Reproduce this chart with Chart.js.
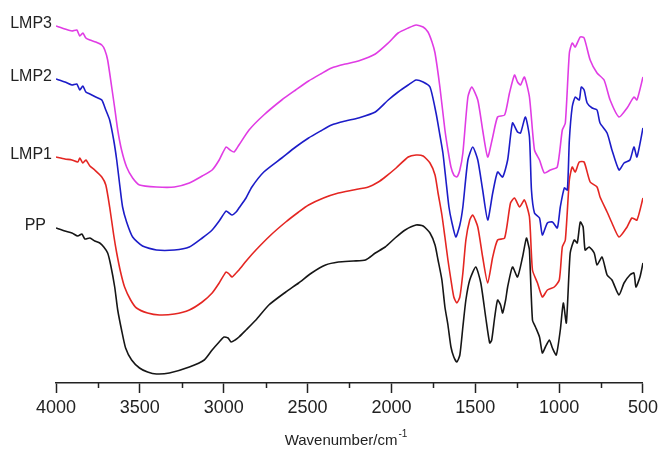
<!DOCTYPE html>
<html>
<head>
<meta charset="utf-8">
<script src="https://cdn.jsdelivr.net/npm/chart.js@4.4.1/dist/chart.umd.min.js"></script>
<style>
  html, body { margin: 0; padding: 0; background: #fff; }
  #wrap { width: 662px; height: 449px; }
</style>
</head>
<body>
<div id="wrap"><canvas id="ftir" width="662" height="449"></canvas></div>
<script>
// series names, as printed at the left end of each trace
const seriesNames = ['LMP3', 'LMP2', 'LMP1', 'PP'];

// tick labels of the wavenumber axis
const majorTicks = [4000, 3500, 3000, 2500, 2000, 1500, 1000, 500];
const minorTicks = [3750, 3250, 2750, 2250, 1750, 1250, 750];

// traces (transmittance, arbitrary offset units)
const ppWn = [4000,3947,3905,3870,3846,3828,3798,3769,3739,3715,3692,3674,3650,3632,3609,3585,3549,3502,3454,3401,3324,3205,3116,3069,3027,2998,2974,2956,2932,2909,2867,2808,2731,2630,2553,2476,2393,2316,2227,2155,2096,2037,1978,1918,1853,1811,1770,1740,1722,1699,1681,1663,1645,1628,1610,1592,1574,1556,1533,1497,1467,1438,1414,1402,1384,1367,1349,1337,1319,1307,1278,1248,1218,1195,1183,1177,1159,1141,1117,1100,1082,1058,1040,1017,993,975,957,934,910,892,874,857,845,821,791,774,744,714,685,643,613,578,554,542,518,500];
const ppT = [155,152,150,147,149,144,145,142,140,136,130,118,96,73,53,35,23,15,11,9,10,16,23,33,41,46,45,41,43,46,53,63,78,91,100,110,118,121,122,123,130,136,145,153,158,157,150,138,123,103,76,58,36,26,21,28,56,83,103,116,100,66,40,43,66,83,78,70,83,96,116,106,126,145,138,133,63,56,46,30,36,43,35,28,53,80,60,130,143,140,161,156,133,136,130,118,126,108,103,88,100,108,110,96,106,120];

const lmp1Wn = [4000,3947,3905,3870,3858,3840,3822,3798,3769,3727,3703,3680,3656,3638,3615,3591,3555,3520,3454,3383,3294,3205,3128,3069,3027,2986,2968,2950,2926,2909,2861,2808,2719,2630,2553,2494,2405,2316,2227,2138,2078,2037,1972,1900,1853,1811,1770,1740,1722,1699,1681,1663,1645,1628,1610,1592,1574,1556,1533,1515,1485,1456,1426,1396,1367,1325,1290,1266,1236,1207,1177,1159,1129,1100,1070,1029,999,981,963,939,922,904,880,851,815,774,756,714,685,643,595,566,536,500];
const lmp1T = [226,224,223,221,225,220,223,217,213,206,198,176,148,130,111,96,83,75,70,68,69,73,81,90,100,111,109,106,110,113,123,133,148,161,171,178,185,190,193,196,201,206,215,226,228,227,220,208,190,168,146,123,103,86,80,86,110,143,163,168,156,126,100,126,143,145,180,185,176,183,166,113,100,86,93,96,103,136,143,203,216,211,221,221,201,196,186,171,160,146,156,165,163,185];

const lmp2Wn = [4000,3947,3905,3876,3858,3840,3822,3798,3763,3727,3703,3680,3656,3638,3620,3603,3579,3543,3484,3401,3294,3205,3128,3069,3027,2986,2968,2950,2926,2909,2867,2832,2761,2654,2571,2494,2422,2357,2274,2197,2096,2019,1960,1900,1853,1811,1770,1734,1711,1693,1675,1657,1640,1616,1592,1574,1544,1515,1485,1456,1426,1396,1367,1337,1307,1278,1248,1230,1201,1177,1165,1147,1117,1100,1070,1040,1011,993,969,951,939,922,904,880,868,851,833,803,774,756,714,685,643,613,578,554,536,500];
const lmp2T = [304,301,298,299,293,297,291,289,286,283,273,263,243,223,198,176,161,146,137,133,133,136,145,153,162,172,170,168,171,175,185,196,211,225,236,245,252,258,262,265,271,283,291,298,303,301,296,270,248,230,203,176,161,146,158,176,223,236,223,193,163,190,211,206,223,260,251,250,266,246,193,170,165,148,160,161,155,176,195,193,243,276,286,283,296,293,280,275,273,260,250,233,213,220,223,236,226,255];

const lmp3Wn = [4000,3947,3905,3876,3858,3840,3822,3798,3763,3727,3709,3692,3668,3650,3632,3609,3579,3543,3502,3401,3294,3205,3128,3069,3027,2986,2962,2938,2909,2849,2761,2654,2571,2494,2422,2357,2274,2197,2096,2019,1960,1900,1853,1811,1782,1758,1740,1711,1681,1663,1645,1628,1610,1592,1574,1544,1521,1485,1456,1426,1396,1367,1325,1296,1266,1248,1230,1207,1177,1147,1117,1088,1052,1011,981,963,939,922,904,874,851,815,774,732,696,643,595,554,536,500];
const lmp3T = [357,354,352,353,347,350,345,343,341,338,333,323,296,275,253,233,216,205,198,196,196,200,207,213,223,236,233,231,238,253,268,283,293,302,309,315,319,322,329,340,350,355,358,356,351,341,330,296,253,233,216,208,206,213,230,286,296,283,253,226,246,266,268,290,308,301,298,306,286,233,223,210,213,216,253,260,330,340,336,346,345,323,310,303,283,266,275,286,283,306];

const colors = ['#e03ce4', '#1c1cc8', '#e42622', '#161616'];

function pts(wn, t) {
    return wn.map((w, i) => ({ x: w, y: t[i] }));
}

const traces = [pts(lmp3Wn, lmp3T), pts(lmp2Wn, lmp2T), pts(lmp1Wn, lmp1T), pts(ppWn, ppT)];

// names at the start of each trace
const traceLabels = {
    id: 'traceLabels',
    afterDatasetsDraw(chart) {
        const ctx = chart.ctx;
        ctx.save();
        ctx.font = '16px "Liberation Sans", Arial, sans-serif';
        ctx.fillStyle = '#222';
        ctx.textAlign = 'right';
        ctx.textBaseline = 'middle';
        chart.data.datasets.forEach((ds, i) => {
            const p = chart.getDatasetMeta(i).data[0];
            const gap = ds.label === 'PP' ? 10 : 4;
            ctx.fillText(ds.label, p.x - gap, p.y - 2);
        });
        ctx.restore();
    }
};

// minor ticks and the axis title with its superscript
const axisExtras = {
    id: 'axisExtras',
    afterDraw(chart) {
        const ctx = chart.ctx;
        const xs = chart.scales.x;
        const y0 = chart.chartArea.bottom;
        ctx.save();
        ctx.strokeStyle = '#222';
        ctx.lineWidth = 1.5;
        minorTicks.forEach(v => {
            const px = Math.round(xs.getPixelForValue(v)) + 0.5;
            ctx.beginPath();
            ctx.moveTo(px, y0);
            ctx.lineTo(px, y0 + 5);
            ctx.stroke();
        });

        const main = 'Wavenumber/cm';
        const sup = '-1';
        ctx.fillStyle = '#222';
        ctx.textBaseline = 'alphabetic';
        ctx.font = '15px "Liberation Sans", Arial, sans-serif';
        const w1 = ctx.measureText(main).width;
        ctx.font = '10px "Liberation Sans", Arial, sans-serif';
        const w2 = ctx.measureText(sup).width;
        const cx = (chart.chartArea.left + chart.chartArea.right) / 2 - 4;
        const x1 = cx - (w1 + w2) / 2;
        ctx.font = '15px "Liberation Sans", Arial, sans-serif';
        ctx.textAlign = 'left';
        ctx.fillText(main, x1, 445);
        ctx.font = '10px "Liberation Sans", Arial, sans-serif';
        ctx.fillText(sup, x1 + w1 + 1, 437);
        ctx.restore();
    }
};

new Chart(document.getElementById('ftir'), {

    type: 'line',

    data: {
        datasets: seriesNames.map((name, i) => ({
            label: name,
            data: traces[i],
            borderColor: colors[i],
            borderWidth: 1.6,
            pointRadius: 0,
            tension: 0.2,
            fill: false
        }))
    },

    options: {
        responsive: false,
        animation: false,
        devicePixelRatio: 1,
        layout: {
            padding: { left: 56, right: 16, top: 10, bottom: 0 }
        },
        plugins: {
            legend: { display: false },
            tooltip: { enabled: false }
        },
        scales: {
            x: {
                type: 'linear',
                reverse: true,
                min: 500,
                max: 4000,
                afterBuildTicks(scale) {
                    scale.ticks = majorTicks.map(v => ({ value: v }));
                },
                afterFit(scale) {
                    scale.height = 66;
                },
                border: { display: true, color: '#222', width: 1.5 },
                grid: {
                    drawOnChartArea: false,
                    drawTicks: true,
                    tickLength: 10,
                    tickWidth: 1.5,
                    tickColor: '#222'
                },
                ticks: {
                    autoSkip: false,
                    maxRotation: 0,
                    padding: 4,
                    color: '#222',
                    font: { family: '"Liberation Sans", Arial, sans-serif', size: 18 },
                    callback: v => String(v)
                }
            },
            y: {
                display: false,
                min: 0,
                max: 373
            }
        }
    },

    plugins: [traceLabels, axisExtras]
});
</script>
</body>
</html>
